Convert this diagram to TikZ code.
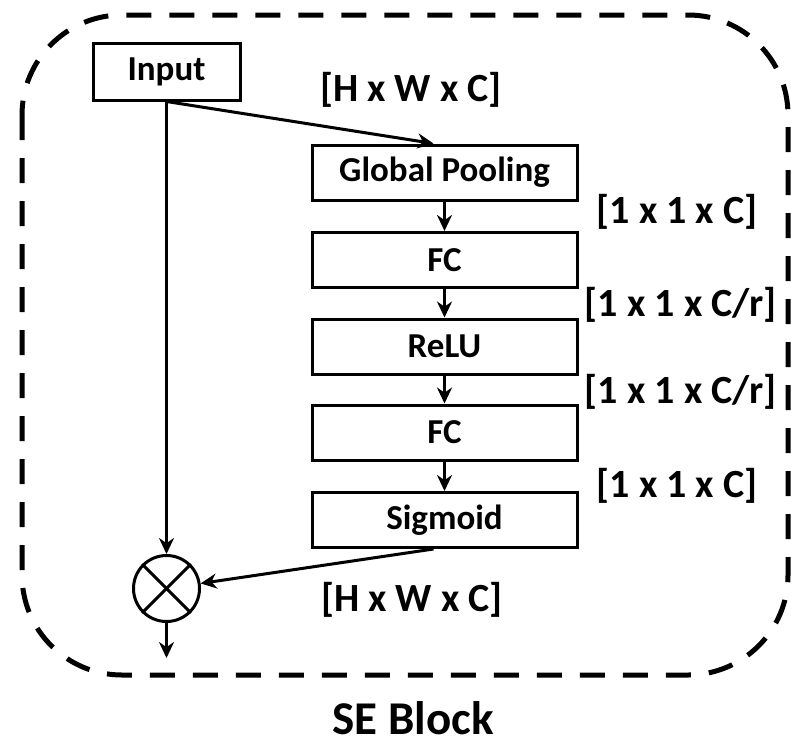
\documentclass[tikz,border=0pt]{standalone}
\usepackage{fontspec}
\setmainfont{Carlito}
\usetikzlibrary{arrows.meta}

\tikzset{
  layer/.style={draw, line width=3pt, minimum width=265pt, minimum height=55pt, inner sep=0pt, font=\fontsize{35}{40}\selectfont\bfseries},
  dims/.style={font=\fontsize{40}{46}\selectfont\bfseries, inner sep=0pt},
  flow/.style={draw, line width=3pt, -{Stealth[length=16pt,width=15pt]}}
}

\begin{document}
\begin{tikzpicture}[x=1pt, y=-1pt]
    \useasboundingbox (0,0) rectangle (791,747);
    % block outline
    \path[draw, line width=5pt, dash pattern=on 25pt off 18pt, rounded corners=100pt](22,15)rectangle(788,675);
    % layers
    \node[layer, minimum width=147pt, minimum height=57pt](input)at(166.5,71.5){Input};
    \node[layer](gp)at(444.5,172.5){Global Pooling};
    \node[layer](fc1)at(444.5,260){FC};
    \node[layer](relu)at(444.5,346.5){ReLU};
    \node[layer](fc2)at(444.5,432.5){FC};
    \node[layer](sig)at(444.5,520){Sigmoid};
    % scaling
    \node[draw, circle, line width=3pt, minimum size=66pt, inner sep=0pt](mul)at(166.5,588.5){};
    \path[draw, line width=3pt](mul.north west)to(mul.south east);
    \path[draw, line width=3pt](mul.north east)to(mul.south west);
    \coordinate(out)at(166.5,658);
    % connections
    \path[flow](input.south)to([xshift=-11pt]gp.north);
    \path[flow](gp)to(fc1);
    \path[flow](fc1)to(relu);
    \path[flow](relu)to(fc2);
    \path[flow](fc2)to(sig);
    \path[flow](input.south)to(mul.north);
    \path[flow]([xshift=-11pt]sig.south)to(mul);
    \path[flow](mul.south)to(out);
    % tensor shapes
    \node[dims](d0)at(411,90){[H x W x C]};
    \node[dims](d1)at(677,212){[1 x 1 x C]};
    \node[dims](d2)at(681,305){[1 x 1 x C/r]};
    \node[dims](d3)at(681,392){[1 x 1 x C/r]};
    \node[dims](d4)at(677,486){[1 x 1 x C]};
    \node[dims](d5)at(412,600){[H x W x C]};
    % caption
    \node[font=\fontsize{47}{54}\selectfont\bfseries, anchor=base, inner sep=0pt](title)at(413,734){SE Block};
\end{tikzpicture}
\end{document}
